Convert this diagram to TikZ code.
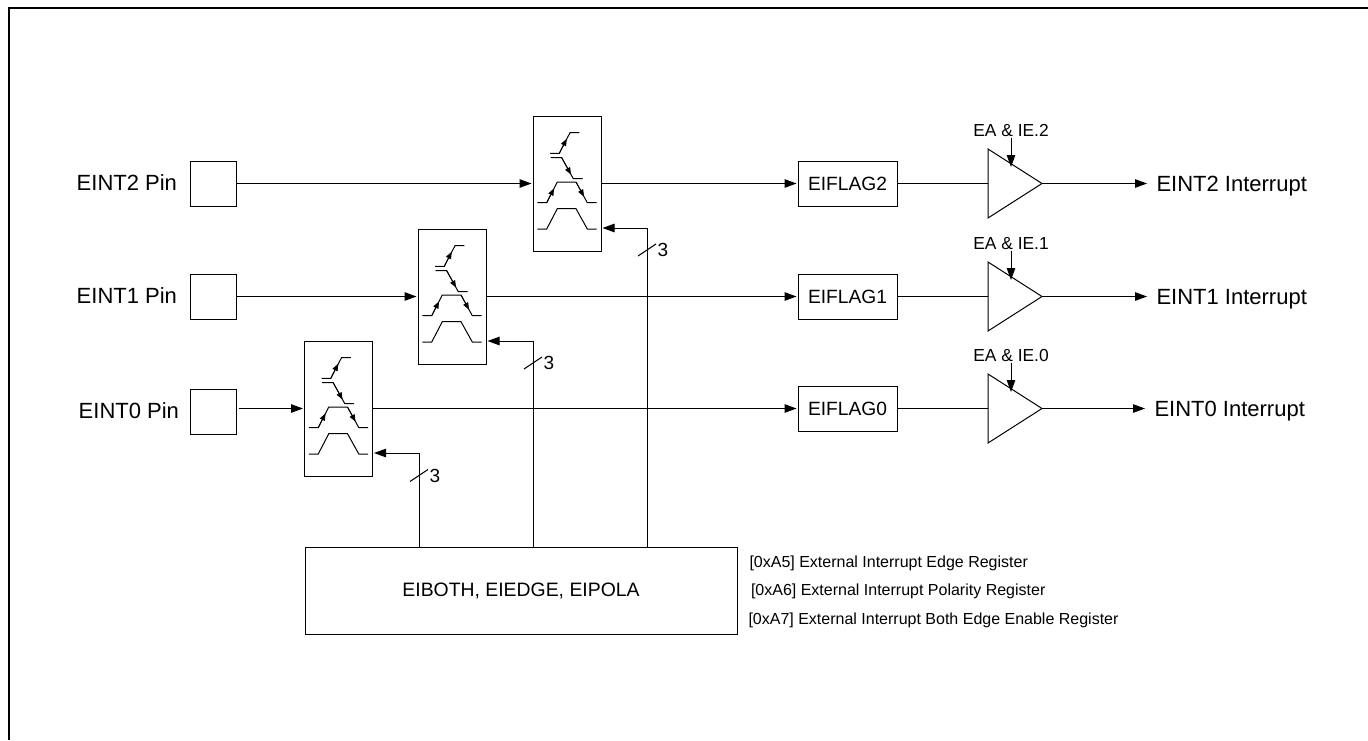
\documentclass[tikz,border=0pt]{standalone}
\usepackage{fontspec}
\setmainfont{Liberation Sans}
\usepackage{xcolor}
\usetikzlibrary{arrows.meta, positioning, shapes.geometric}

\begin{document}
\begin{tikzpicture}[
    x=1pt, y=-1pt,
    line width=1pt,
    pinbox/.style={rectangle, draw, outer sep=0pt, minimum width=46pt, minimum height=45pt},
    selbox/.style={rectangle, draw, outer sep=0pt, minimum width=68pt, minimum height=135pt},
    flagbox/.style={rectangle, draw, outer sep=0pt, minimum width=99pt, minimum height=45pt, inner sep=0pt, font=\fontsize{19.2}{23}\selectfont},
    regbox/.style={rectangle, draw, outer sep=0pt, minimum width=432pt, minimum height=87pt, font=\fontsize{19.4}{23}\selectfont},
    gate/.style={isosceles triangle, isosceles triangle stretches, draw, outer sep=0pt, inner sep=0pt, minimum width=69pt, minimum height=54pt, anchor=apex},
    pinlabel/.style={font=\fontsize{22}{26}\selectfont, inner sep=0pt},
    enlabel/.style={font=\fontsize{17.4}{20}\selectfont, inner sep=1pt, anchor=base},
    reglabel/.style={font=\fontsize{16}{19}\selectfont, inner sep=0pt, anchor=base west},
    numlabel/.style={font=\fontsize{19}{22}\selectfont, inner sep=0pt},
    arrow/.style={-{Triangle[length=12pt, width=8.5pt]}, shorten >=1.5pt},
    tiparrow/.style={-{Triangle[length=7pt, width=5.5pt]}, line width=0.8pt},
    edges/.pic={
        \draw (17,37.3) -- (26.3,37.3) -- (37,16.7) -- (46.3,16.7);
        \draw[tiparrow] (26.3,37.3) -- (33.7,22.8);
        \draw (17.7,41.7) -- (28.7,41.7) -- (40.3,62.7) -- (49.7,62.7);
        \draw[tiparrow] (28.7,41.7) -- (38,58.5);
        \draw (4.3,86.7) -- (13.7,86.7) -- (24.3,66) -- (43,66) -- (54.3,86.7) -- (63.7,86.7);
        \draw[tiparrow] (13.7,86.7) -- (21,72.5);
        \draw[tiparrow] (43,66) -- (51,80.6);
        \draw (4.3,113) -- (13.7,113) -- (24.3,92.7) -- (43,92.7) -- (54.3,113) -- (63.7,113);
    },
]
    \useasboundingbox (0,0) rectangle (1368,740);
    \coordinate (frameA) at (9,740);
    \coordinate (frameB) at (9,8);
    \coordinate (frameC) at (1368,8);
    \draw[line width=2pt] (frameA) -- (frameB) -- (frameC);

    \node[pinbox] (pin2) at (213,183.5) {};
    \node[pinbox] (pin1) at (213,296.5) {};
    \node[pinbox] (pin0) at (213,411.5) {};
    \node[pinlabel, anchor=base east] (name2) at (177.5,190.5) {EINT2 Pin};
    \node[pinlabel, anchor=base east] (name1) at (177.5,303.5) {EINT1 Pin};
    \node[pinlabel, anchor=base east] (name0) at (179.5,418.5) {EINT0 Pin};

    \node[selbox] (sel2) at (567,183.5) {};
    \node[selbox] (sel1) at (452,296.5) {};
    \node[selbox] (sel0) at (338.5,408.5) {};
    \pic at (sel2.north west) {edges};
    \pic at (sel1.north west) {edges};
    \pic at (sel0.north west) {edges};

    \node[flagbox] (flag2) at (847.5,183.5) {EIFLAG2};
    \node[flagbox] (flag1) at (847.5,296.5) {EIFLAG1};
    \node[flagbox] (flag0) at (847.5,408.5) {EIFLAG0};

    \node[gate] (gate2) at (1042,183.5) {};
    \node[gate] (gate1) at (1042,296.5) {};
    \node[gate] (gate0) at (1042,408.5) {};
    \node[enlabel] (en2) at (1011,136) {EA \& IE.2};
    \node[enlabel] (en1) at (1011,249) {EA \& IE.1};
    \node[enlabel] (en0) at (1011,361) {EA \& IE.0};
    \coordinate (entip2) at (1011,167);
    \coordinate (entip1) at (1011,280);
    \coordinate (entip0) at (1011,392);

    \node[pinlabel, anchor=base west] (int2) at (1156,191) {EINT2 Interrupt};
    \node[pinlabel, anchor=base west] (int1) at (1156,304) {EINT1 Interrupt};
    \node[pinlabel, anchor=base west] (int0) at (1154,416) {EINT0 Interrupt};

    \node[regbox] (reg) at (521,590.5) {EIBOTH, EIEDGE, EIPOLA};
    \node[reglabel] (edge) at (749,567) {[0xA5] External Interrupt Edge Register};
    \node[reglabel] (pola) at (750.5,595.7) {[0xA6] External Interrupt Polarity Register};
    \node[reglabel] (both) at (748,624.3) {[0xA7] External Interrupt Both Edge Enable Register};

    \coordinate (bus2) at (647,547);
    \coordinate (bus1) at (533,547);
    \coordinate (bus0) at (419,547);
    \coordinate (tick2) at (647,250);
    \coordinate (tick1) at (533,363);
    \coordinate (tick0) at (419,475.5);
    \node[numlabel] (num2) at (663,250) {3};
    \node[numlabel] (num1) at (549,363) {3};
    \node[numlabel] (num0) at (435,476) {3};

    \draw[arrow] (pin2) -- (sel2);
    \draw[arrow] (pin1) -- (sel1);
    \draw[arrow, shorten <=2.5pt] (pin0.east |- sel0) -- (sel0);
    \draw[arrow] (sel2) -- (flag2);
    \draw[arrow] (sel1) -- (flag1);
    \draw[arrow] (sel0) -- (flag0);
    \draw (flag2) -- (gate2.west);
    \draw (flag1) -- (gate1.west);
    \draw (flag0) -- (gate0.west);
    \draw[arrow, shorten >=9pt] (gate2.apex) -- (int2.west |- gate2.apex);
    \draw[arrow, shorten >=9pt] (gate1.apex) -- (int1.west |- gate1.apex);
    \draw[arrow, shorten >=9pt] (gate0.apex) -- (int0.west |- gate0.apex);
    \draw[arrow, shorten >=0pt] (en2) -- (entip2);
    \draw[arrow, shorten >=0pt] (en1) -- (entip1);
    \draw[arrow, shorten >=0pt] (en0) -- (entip0);

    \draw[arrow] (bus2) |- ([yshift=-44.5pt]sel2.east);
    \draw[arrow] (bus1) |- ([yshift=-44.5pt]sel1.east);
    \draw[arrow] (bus0) |- ([yshift=-44.5pt]sel0.east);
    \draw ([shift={(-9,6)}]tick2) -- ([shift={(9,-6)}]tick2);
    \draw ([shift={(-9,6)}]tick1) -- ([shift={(9,-6)}]tick1);
    \draw ([shift={(-9,6)}]tick0) -- ([shift={(9,-6)}]tick0);
\end{tikzpicture}
\end{document}
